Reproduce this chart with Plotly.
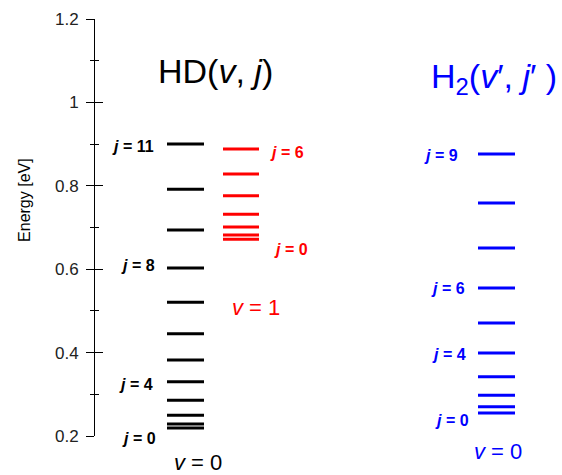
import plotly.graph_objects as go

# ---- data (energies in eV) ----
hd_v0_j = list(range(12))
hd_v0_E = [0.219, 0.229, 0.250, 0.286, 0.330, 0.382, 0.445, 0.521, 0.603, 0.694, 0.792, 0.900]

hd_v1_j = list(range(7))
hd_v1_E = [0.672, 0.682, 0.701, 0.732, 0.776, 0.828, 0.888]

h2_v0_j = list(range(10))
h2_v0_E = [0.255, 0.270, 0.298, 0.342, 0.399, 0.471, 0.555, 0.651, 0.759, 0.876]

y_ticks = [0.2, 0.4, 0.6, 0.8, 1.0, 1.2]
y_tick_labels = ["0.2", "0.4", "0.6", "0.8", "1", "1.2"]

# column extents (x in plot units)
cols = {
    "hd0": (72, 109, "black"),
    "hd1": (128, 164, "#ff0000"),
    "h20": (383, 420, "#0000ff"),
}

FONT = '"Liberation Sans", Arial, sans-serif'


def segs(x0, x1, energies):
    xs, ys = [], []
    for e in energies:
        xs += [x0, x1, None]
        ys += [e, e, None]
    return xs, ys


fig = go.Figure()
for key, E in (("hd0", hd_v0_E), ("hd1", hd_v1_E), ("h20", h2_v0_E)):
    x0, x1, c = cols[key]
    xs, ys = segs(x0, x1, E)
    fig.add_trace(go.Scatter(x=xs, y=ys, mode="lines", line=dict(color=c, width=3),
                             hoverinfo="skip", showlegend=False))

# invisible trace to activate overlay axis (inside ticks)
fig.add_trace(go.Scatter(x=[0], y=[0.2], yaxis="y2", mode="markers",
                         marker=dict(opacity=0), hoverinfo="skip", showlegend=False))

ann = []


def jlab(text, x, y, color, anchor, yshift=0):
    ann.append(dict(text="<b><i>j</i> = %s</b>" % text, x=x, y=y, xref="x", yref="y",
                    xanchor=anchor, yanchor="middle", showarrow=False, yshift=yshift,
                    font=dict(family=FONT, size=16, color=color)))


# HD v=0 labels
jlab("11", 61, hd_v0_E[11], "black", "right", -2)
jlab("8", 62, hd_v0_E[8], "black", "right", 2)
jlab("4", 60, hd_v0_E[4], "black", "right", -3)
jlab("0", 63, hd_v0_E[0], "black", "right", -10)
# HD v=1 labels
jlab("6", 173, hd_v1_E[6], "#ff0000", "left", -3)
jlab("0", 177, hd_v1_E[0], "#ff0000", "left", -10)
# H2 labels
jlab("9", 365, h2_v0_E[9], "#0000ff", "right", -1)
jlab("6", 372, h2_v0_E[6], "#0000ff", "right", -1)
jlab("4", 373, h2_v0_E[4], "#0000ff", "right", -1)
jlab("0", 376, h2_v0_E[0], "#0000ff", "right", -7)


def ptxt(text, x, y, size, color, angle=0):
    ann.append(dict(text=text, x=x, y=y, xref="paper", yref="paper", xanchor="center",
                    yanchor="middle", showarrow=False, textangle=angle,
                    font=dict(family=FONT, size=size, color=color)))


ptxt("HD(<i>v</i>, <i>j</i>)", 0.259, 0.875, 34, "black")
ptxt("H<sub>2</sub>(<i>v</i>′, <i>j</i>′ )", 0.855, 0.858, 34, "#0000ff")
ptxt("<i>v</i> = 1", 0.345, 0.309, 22, "#ff0000")
ptxt("<i>v</i> = 0", 0.2206, -0.064, 22, "black")
ptxt("<i>v</i> = 0", 0.863, -0.036, 22, "#0000ff")
ptxt("Energy [eV]", -0.150, 0.566, 16, "black", -90)

fig.update_layout(
    width=562, height=475,
    margin=dict(l=95, r=0, t=19, b=39),
    paper_bgcolor="white", plot_bgcolor="white",
    showlegend=False,
    annotations=ann,
    xaxis=dict(range=[0, 467], visible=False, fixedrange=True),
    yaxis=dict(range=[0.2, 1.2], tickvals=y_ticks, ticktext=y_tick_labels,
               ticks="outside", ticklen=8, tickwidth=1, tickcolor="black",
               showline=True, linecolor="black", linewidth=1, showgrid=False,
               zeroline=False, tickfont=dict(family=FONT, size=17, color="#222222"),
               minor=dict(ticks="outside", ticklen=4, dtick=0.1, tickcolor="black",
                          showgrid=False),
               ticklabelstandoff=4),
    yaxis2=dict(range=[0.2, 1.2], overlaying="y", side="left", anchor="x",
                tickvals=y_ticks, showticklabels=False,
                ticks="inside", ticklen=8, tickwidth=1, tickcolor="black",
                showline=False, showgrid=False, zeroline=False,
                minor=dict(ticks="inside", ticklen=4, dtick=0.1, tickcolor="black",
                           showgrid=False)),
)

fig.write_html("out.html", config={"displayModeBar": False},
               post_script="document.body.style.margin='0';document.body.style.padding='0';")
